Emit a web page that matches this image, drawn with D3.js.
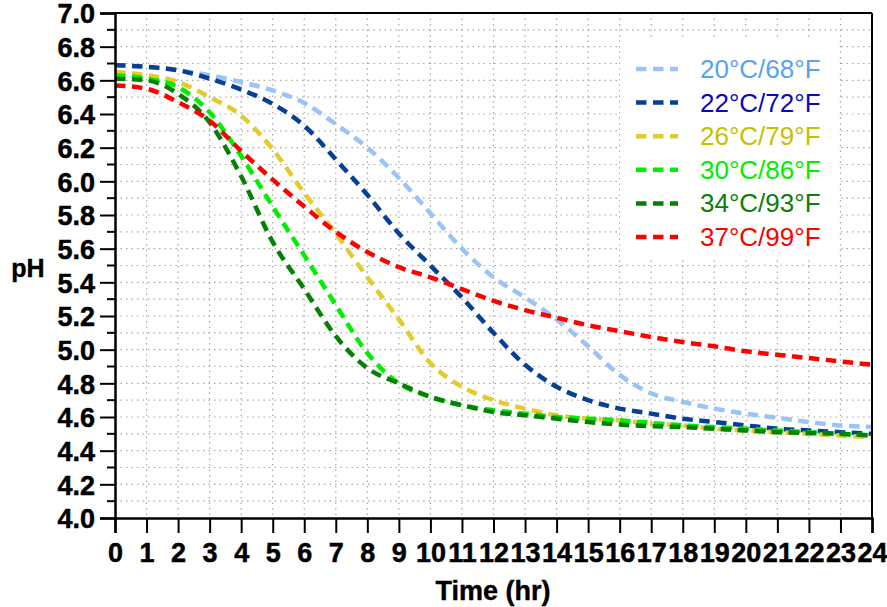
<!DOCTYPE html>
<html>
<head>
<meta charset="utf-8">
<script src="https://cdn.jsdelivr.net/npm/d3@7"></script>
<style>
  body { margin: 0; background: #fff; }
  svg { display: block; font-family: "Liberation Sans", Arial, sans-serif; }
</style>
</head>
<body>
<svg id="chart" width="887" height="607"></svg>
<script>
const hours = [0,1,2,3,4,5,6,7,8,9,10,11,12,13,14,15,16,17,18,19,20,21,22,23,24];
const seriesNames = ["20°C/68°F","22°C/72°F","26°C/79°F","30°C/86°F","34°C/93°F","37°C/99°F"];
const lineColors = ["#99c4f5","#063f94","#e3cb2c","#00ee00","#058005","#ff0000"];
const textColors = ["#55a3f5","#0a0ab8","#c9be00","#00ee00","#0a800a","#ff0000"];
const ph20 = [6.69,6.68,6.66,6.63,6.59,6.54,6.465,6.34,6.20,6.02,5.81,5.60,5.43,5.31,5.18,5.02,4.85,4.74,4.69,4.65,4.62,4.595,4.57,4.55,4.54];
const ph22 = [6.69,6.68,6.66,6.61,6.545,6.46,6.33,6.13,5.92,5.69,5.50,5.31,5.10,4.91,4.78,4.70,4.65,4.62,4.59,4.57,4.55,4.53,4.52,4.51,4.50];
const ph26 = [6.65,6.63,6.59,6.50,6.39,6.19,5.93,5.69,5.43,5.18,4.92,4.78,4.70,4.65,4.61,4.59,4.58,4.56,4.55,4.53,4.52,4.51,4.50,4.49,4.48];
const ph30 = [6.63,6.61,6.56,6.41,6.15,5.85,5.56,5.265,4.98,4.80,4.72,4.67,4.64,4.62,4.60,4.59,4.58,4.565,4.55,4.54,4.53,4.52,4.51,4.50,4.49];
const ph34 = [6.61,6.60,6.52,6.35,6.03,5.64,5.36,5.08,4.89,4.80,4.72,4.67,4.63,4.61,4.59,4.57,4.555,4.545,4.54,4.53,4.52,4.51,4.505,4.50,4.49];
const ph37 = [6.57,6.55,6.47,6.36,6.18,6.01,5.85,5.70,5.58,5.49,5.43,5.36,5.29,5.235,5.19,5.145,5.11,5.075,5.045,5.02,4.99,4.97,4.95,4.93,4.91];
const seriesValues = [ph20, ph22, ph26, ph30, ph34, ph37];
const yTickLabels = ["4.0","4.2","4.4","4.6","4.8","5.0","5.2","5.4","5.6","5.8","6.0","6.2","6.4","6.6","6.8","7.0"];
const xTickLabels = hours.map(String);

const svg = d3.select("#chart");
const L = 115, R = 872, T = 13, B = 518;
const x = d3.scaleLinear().domain([0,24]).range([L,R]);
const y = d3.scaleLinear().domain([4,7]).range([B,T]);

// grid
const grid = svg.append("g");
const minorY = d3.range(41,70).map(v => v/10);
grid.selectAll("line.gy").data(minorY).join("line")
  .attr("x1", L).attr("x2", R)
  .attr("y1", d => y(d)).attr("y2", d => y(d))
  .attr("stroke", "#a8a8a8").attr("stroke-width", 1.2).attr("stroke-dasharray", "1.5,4");
grid.selectAll("line.gx").data(d3.range(1,24)).join("line")
  .attr("y1", T).attr("y2", B)
  .attr("x1", d => x(d)).attr("x2", d => x(d))
  .attr("stroke", "#a8a8a8").attr("stroke-width", 1.2).attr("stroke-dasharray", "1.5,4");

// legend background
svg.append("rect").attr("x", 620).attr("y", 40).attr("width", 218).attr("height", 217).attr("fill", "#fff");

// lines
const line = d3.line().x((d,i) => x(hours[i])).y(d => y(d)).curve(d3.curveMonotoneX);
svg.append("clipPath").attr("id","clip").append("rect")
  .attr("x", L).attr("y", T).attr("width", R-L).attr("height", B-T);
svg.append("g").attr("clip-path","url(#clip)")
  .selectAll("path").data(seriesValues).join("path")
  .attr("d", d => line(d))
  .attr("fill", "none")
  .attr("stroke", (d,i) => lineColors[i])
  .attr("stroke-width", 4.5)
  .attr("stroke-dasharray", "10.5,6.5");

// axes
const yAxis = d3.axisLeft(y).tickValues(yTickLabels.map(Number)).tickFormat((d,i) => yTickLabels[i]).tickSize(15).tickPadding(5);
const gy = svg.append("g").attr("transform", `translate(${L},0)`).call(yAxis);
gy.attr("font-size", 27).attr("font-family", null);
gy.selectAll(".tick line").attr("stroke", "#000").attr("stroke-width", 2);
gy.select(".domain").attr("stroke-width", 2.5);
gy.selectAll("text").style("font-size", "27px").attr("font-weight", "bold").attr("fill", "#000")
  .attr("stroke", "#000").attr("stroke-width", 0.5).attr("dy", "0.36em");
// minor ticks
svg.append("g").selectAll("line").data(d3.range(41,70,2).map(v => v/10)).join("line")
  .attr("x1", L-8).attr("x2", L).attr("y1", d => y(d)).attr("y2", d => y(d))
  .attr("stroke", "#000").attr("stroke-width", 2);

const xAxis = d3.axisBottom(x).tickValues(hours).tickFormat((d,i) => xTickLabels[i]).tickSize(15).tickPadding(10);
const gx = svg.append("g").attr("transform", `translate(0,${B})`).call(xAxis);
gx.attr("font-size", 27).attr("font-family", null);
gx.selectAll(".tick line").attr("stroke", "#000").attr("stroke-width", 2);
gx.select(".domain").attr("stroke-width", 2.5);
gx.selectAll("text").style("font-size", "27px").attr("font-weight", "bold").attr("fill", "#000")
  .attr("stroke", "#000").attr("stroke-width", 0.5);

// frame top/right
svg.append("line").attr("x1", L).attr("x2", R).attr("y1", T).attr("y2", T).attr("stroke", "#000").attr("stroke-width", 2);
svg.append("line").attr("x1", R).attr("x2", R).attr("y1", T).attr("y2", B).attr("stroke", "#000").attr("stroke-width", 2);

// axis titles
svg.append("text").attr("x", 28).attr("y", 277).attr("text-anchor", "middle")
  .style("font-size", "25px").attr("font-weight", "bold").attr("stroke", "#000").attr("stroke-width", 0.4).text("pH");
svg.append("text").attr("x", 493).attr("y", 600).attr("text-anchor", "middle")
  .style("font-size", "27px").attr("font-weight", "bold").attr("stroke", "#000").attr("stroke-width", 0.4).text("Time (hr)");

// legend
const lg = svg.append("g");
seriesNames.forEach((name, i) => {
  const yy = 69 + i * 33.6;
  lg.append("line").attr("x1", 636).attr("x2", 678).attr("y1", yy).attr("y2", yy)
    .attr("stroke", lineColors[i]).attr("stroke-width", 4.5).attr("stroke-dasharray", "10.5,6.5");
  lg.append("text").attr("x", 700).attr("y", yy + 9)
    .style("font-size", "26px").attr("fill", textColors[i]).text(name);
});
</script>
</body>
</html>
